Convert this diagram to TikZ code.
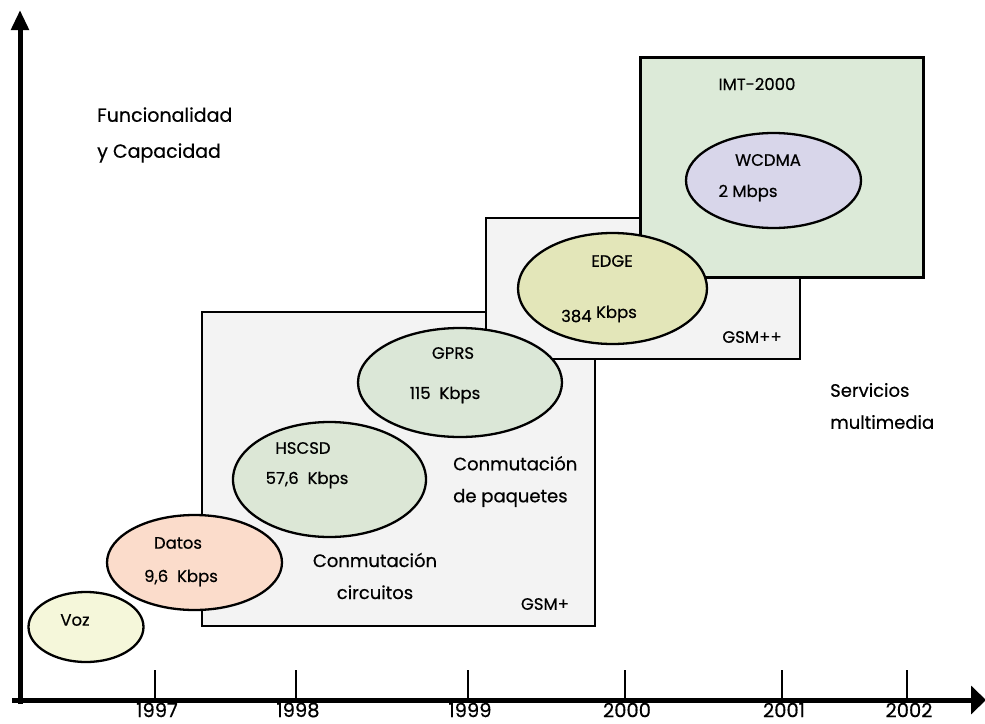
\documentclass[tikz,border=0pt]{standalone}
\usepackage{fontspec}
\setmainfont{Poppins}[FakeBold=0.5]
\usetikzlibrary{shapes.geometric,arrows.meta}
\definecolor{boxgray}{HTML}{F3F3F3}
\definecolor{imtgreen}{HTML}{DCEAD8}
\definecolor{vozc}{HTML}{F5F7DA}
\definecolor{datosc}{HTML}{FBDCCB}
\definecolor{hscsdc}{HTML}{DCE7D6}
\definecolor{gprsc}{HTML}{DBE7D7}
\definecolor{edgec}{HTML}{E3E6B9}
\definecolor{wcdmac}{HTML}{D8D6EA}
\tikzset{
  techbox/.style={draw=black, line width=2.6pt, rectangle, inner sep=0pt},
  tech/.style={draw=black, line width=2.3pt, ellipse, inner sep=0pt},
  small/.style={font=\fontsize{16.5}{19}\selectfont, inner sep=0pt},
  big/.style={font=\fontsize{18}{32}\selectfont, inner sep=0pt},
  axisline/.style={line width=5pt},
  tickline/.style={line width=2.5pt},
  year/.style={font=\fontsize{19.5}{22}\selectfont, inner sep=0pt}
}
\begin{document}
\begin{tikzpicture}[x=1pt,y=-1pt]
\useasboundingbox (0,0) rectangle (985,723);
% boxes
\node[techbox, fill=boxgray, minimum width=393pt, minimum height=314pt] (gsmp) at (398.5,469) {};
\node[techbox, fill=boxgray, minimum width=314pt, minimum height=141pt] (gsmpp) at (643,288.5) {};
\node[techbox, fill=imtgreen, line width=3pt, minimum width=283pt, minimum height=220pt] (imt) at (781.5,167) {};
% ellipses
\node[tech, fill=vozc, minimum width=115pt, minimum height=70pt] (voz) at (86,627) {};
\node[tech, fill=datosc, minimum width=175pt, minimum height=95pt] (datos) at (194.5,562.5) {};
\node[tech, fill=hscsdc, minimum width=193pt, minimum height=115pt] (hscsd) at (329.5,479.5) {};
\node[tech, fill=gprsc, minimum width=204pt, minimum height=109pt] (gprs) at (460,382.5) {};
\node[tech, fill=edgec, minimum width=189pt, minimum height=111pt] (edge) at (612.5,288.5) {};
\node[tech, fill=wcdmac, minimum width=175pt, minimum height=95pt] (wcdma) at (773.5,180.5) {};
% ellipse texts
\node[small] (tvoz) at (75,620) {Voz};
\node[small] (tdatos) at (178,543) {Datos};
\node[small] (rdatos) at (181,578) {9,6\ \ Kbps};
\node[small] (thscsd) at (303,448) {HSCSD};
\node[small] (rhscsd) at (307,480) {57,6\ \ Kbps};
\node[small] (tgprs) at (453,353) {GPRS};
\node[small] (rgprs) at (445,395) {115\ \ Kbps};
\node[small] (tedge) at (612,261) {EDGE};
\node[small] (redge) at (599,314) {384 \raisebox{4pt}{Kbps}};
\node[small] (twcdma) at (768,160) {WCDMA};
\node[small] (rwcdma) at (748,193) {2 Mbps};
% box labels
\node[small] (timt) at (757,84) {IMT-2000};
\node[small] (tgsmpp) at (752,337) {GSM++};
\node[small] (tgsmp) at (545,604) {GSM+};
% big labels
\node[big, align=left, anchor=west, font=\fontsize{19}{36}\selectfont] (func) at (97,135) {Funcionalidad\\y Capacidad};
\node[big, align=left, anchor=west] (paq) at (453,481.5) {Conmutación\\de paquetes};
\node[big, align=center] (circ) at (375,576) {Conmutación\\circuitos};
\node[big, align=left, anchor=west] (serv) at (830,406) {Servicios\\multimedia};
% axes
\coordinate (o) at (20,700);
\coordinate (ytop) at (20,10);
\coordinate (ybot) at (20,704);
\coordinate (xl) at (12,700);
\coordinate (xr) at (986,700);
\draw[axisline, -{Triangle[length=20pt,width=17pt]}] (ybot) -- (ytop);
\draw[axisline, -{Triangle[length=15pt,width=28pt]}] (xl) -- (xr);
% ticks
\foreach \xx/\yy in {155/1997,296/1998,468/1999,625/2000,782/2001,907/2002}{
  \coordinate (tk\yy) at (\xx,700);
  \draw[tickline] (tk\yy) -- ++(0,-30);
  \node[year] (lab\yy) at (\xx+2,710) {\yy};
}
\end{tikzpicture}
\end{document}
